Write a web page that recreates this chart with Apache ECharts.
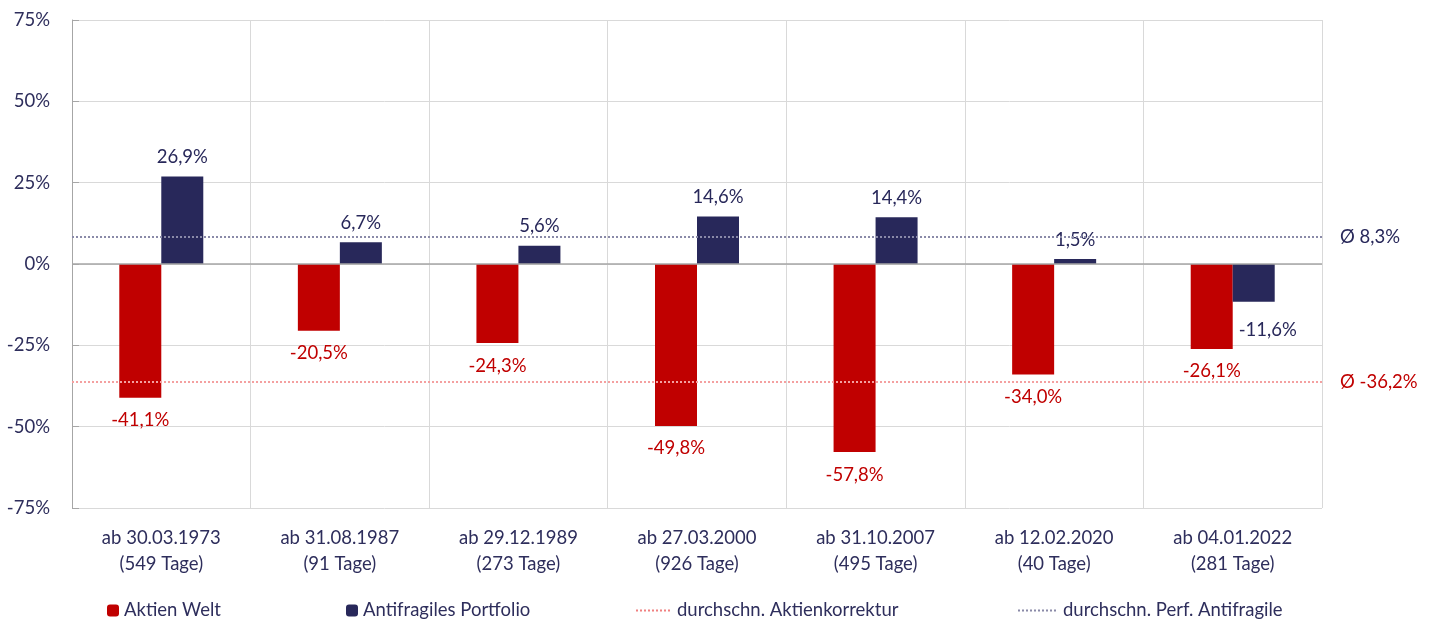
<!DOCTYPE html>
<html>
<head>
<meta charset="utf-8">
<script src="https://cdn.jsdelivr.net/npm/echarts@6/dist/echarts.min.js"></script>
<style>html,body{margin:0;padding:0;background:#fff}#c{width:1429px;height:619px}</style>
</head>
<body>
<div id="c"></div>
<script>
const categories = ['ab 30.03.1973\n(549 Tage)','ab 31.08.1987\n(91 Tage)','ab 29.12.1989\n(273 Tage)','ab 27.03.2000\n(926 Tage)','ab 31.10.2007\n(495 Tage)','ab 12.02.2020\n(40 Tage)','ab 04.01.2022\n(281 Tage)'];
const aktienWelt = [-41.1, -20.5, -24.3, -49.8, -57.8, -34.0, -26.1];
const antifragil = [26.9, 6.7, 5.6, 14.6, 14.4, 1.5, -11.6];
const avgAktien = -36.2;
const avgAnti = 8.3;
const yTicks = [-75, -50, -25, 0, 25, 50, 75];

const RED = '#C00000', NAVY = '#28285A', TXT = '#2E2E5C';
const FONT = 'Lato';
const FS = 18.5;
const fmt = v => v.toFixed(1).replace('.', ',') + '%';

const chart = echarts.init(document.getElementById('c'));
const legendBase = {bottom: -6, itemWidth: 12, itemHeight: 12, textStyle: {color: TXT, fontFamily: FONT, fontSize: FS}, itemGap: 4, selectedMode: false};
chart.setOption({
  animation: false,
  textStyle: {fontFamily: FONT},
  grid: {left: 72, right: 107, top: 20, bottom: 111},
  legend: [
    Object.assign({}, legendBase, {left: 102, data: ['Aktien Welt']}),
    Object.assign({}, legendBase, {left: 341, data: ['Antifragiles Portfolio']}),
    Object.assign({}, legendBase, {left: 630, itemWidth: 36, itemStyle: {opacity: 0}, data: ['durchschn. Aktienkorrektur']}),
    Object.assign({}, legendBase, {left: 1012, itemWidth: 40, itemStyle: {opacity: 0}, data: ['durchschn. Perf. Antifragile']})
  ],
  xAxis: {
    type: 'category', data: categories,
    axisLine: {show: false},
    axisTick: {show: false},
    splitLine: {show: true, lineStyle: {color: '#D9D9D9', width: 1}},
    axisLabel: {color: TXT, fontSize: FS, fontFamily: FONT, lineHeight: 26, margin: 17, interval: 0}
  },
  yAxis: {
    type: 'value', min: -75, max: 75, interval: 25,
    axisLine: {show: true, lineStyle: {color: '#A6A6A6'}},
    axisTick: {show: true, inside: true, length: 7, lineStyle: {color: '#A6A6A6'}},
    splitLine: {lineStyle: {color: '#D9D9D9'}},
    axisLabel: {color: TXT, fontSize: FS, fontFamily: FONT, margin: 22, formatter: v => yTicks.includes(v) ? v + '%' : ''}
  },
  series: [
    {
      name: 'Aktien Welt', type: 'bar', data: aktienWelt, barWidth: 42, barGap: '0%',
      itemStyle: {color: RED},
      label: {show: true, position: 'bottom', distance: 13, color: RED, fontSize: FS, fontFamily: FONT, formatter: p => fmt(p.value)}
    },
    {
      name: 'Antifragiles Portfolio', type: 'bar', barWidth: 42,
      data: antifragil.map(v => v < 0 ? {value: v, label: {position: 'bottom', distance: 14, offset: [14, 5]}} : v),
      itemStyle: {color: NAVY},
      label: {show: true, position: 'top', distance: 10, color: NAVY, fontSize: FS, fontFamily: FONT, formatter: p => fmt(p.value)},
      markLine: {
        silent: true, symbol: 'none',
        data: [{yAxis: 0}],
        lineStyle: {color: '#A6A6A6', type: 'solid', width: 1.5},
        label: {show: false}
      }
    },
    {
      name: 'durchschn. Aktienkorrektur', type: 'line', data: [], symbol: 'none', showSymbol: false,
      lineStyle: {color: '#F08080', type: 'dotted', width: 2},
      itemStyle: {color: '#F08080'},
      markLine: {
        silent: true, symbol: 'none',
        data: [{yAxis: avgAktien}],
        lineStyle: {color: '#F4A0A0', type: 'dotted', width: 2},
        label: {show: true, position: 'end', distance: 18, color: RED, fontSize: FS, fontFamily: FONT, formatter: () => 'Ø ' + fmt(avgAktien)}
      }
    },
    {
      name: 'durchschn. Perf. Antifragile', type: 'line', data: [], symbol: 'none', showSymbol: false,
      lineStyle: {color: '#8A8AA8', type: 'dotted', width: 2},
      itemStyle: {color: '#8A8AA8'},
      markLine: {
        silent: true, symbol: 'none',
        data: [{yAxis: avgAnti}],
        lineStyle: {color: '#8A8AA8', type: 'dotted', width: 2},
        label: {show: true, position: 'end', distance: 18, color: NAVY, fontSize: FS, fontFamily: FONT, formatter: () => 'Ø ' + fmt(avgAnti)}
      }
    }
  ]
});
</script>
</body>
</html>
